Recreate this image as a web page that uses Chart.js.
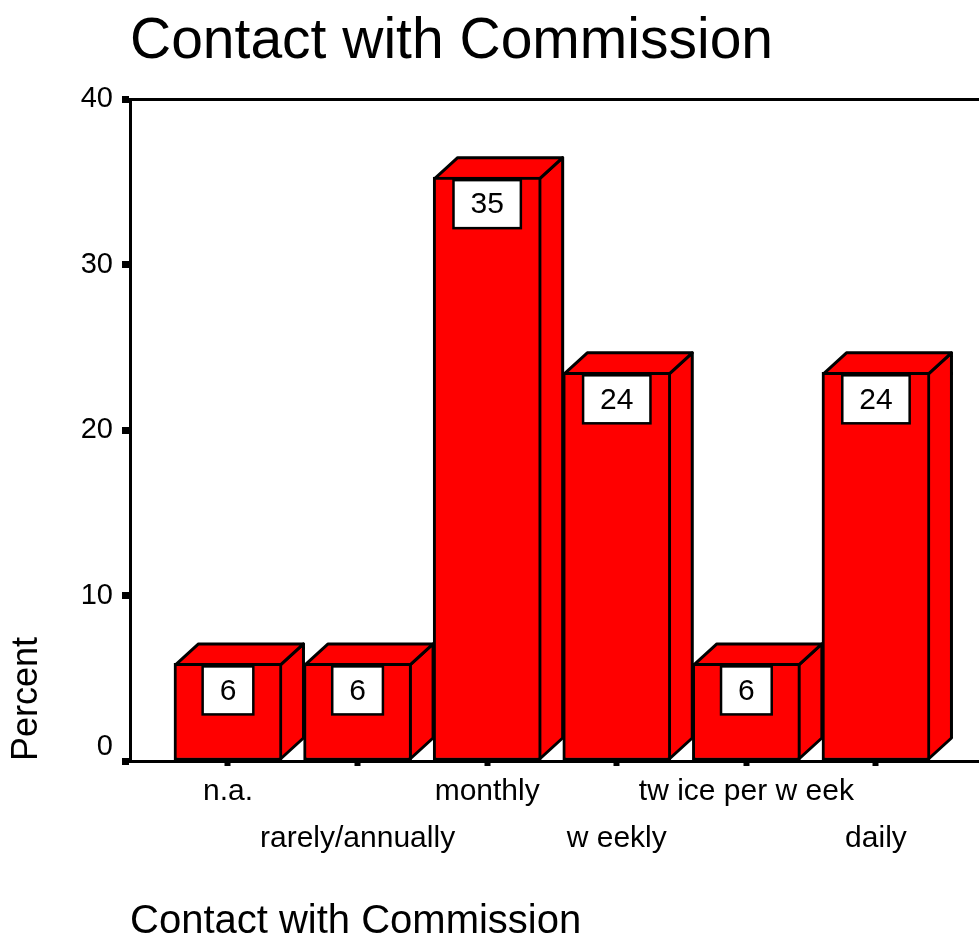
<!DOCTYPE html>
<html>
<head>
<meta charset="utf-8">
<title>Contact with Commission</title>
<script src="https://cdn.jsdelivr.net/npm/chart.js@4.4.1/dist/chart.umd.min.js"></script>
<style>
  html, body { margin: 0; padding: 0; background: #fff; }
  canvas { display: block; }
</style>
</head>
<body>
<canvas id="grafico" width="979" height="940"></canvas>
<script>
// data (percent of respondents)
const categories = ['n.a.', 'rarely/annually', 'monthly', 'w eekly', 'tw ice per w eek', 'daily'];
const percents = [5.9, 5.9, 35.3, 23.5, 5.9, 23.5];
const valueLabels = ['6', '6', '35', '24', '6', '24'];
const yTicks = [0, 10, 20, 30, 40];

const FONT = "'Liberation Sans', Arial, Helvetica, sans-serif";
const RED = '#ff0000';
const DEPTH_X = 23;
const DEPTH_Y = 21;

Chart.defaults.font.family = FONT;
Chart.defaults.color = '#000';

// side and top faces, drawn before the front faces so the next bar covers them
const bar3d = {
  id: 'bar3d',
  beforeDatasetsDraw(chart) {
    const ctx = chart.ctx;
    const meta = chart.getDatasetMeta(0);
    ctx.save();
    ctx.fillStyle = RED;
    ctx.strokeStyle = '#000';
    ctx.lineWidth = 3;
    ctx.lineJoin = 'round';
    meta.data.forEach(bar => {
      const p = bar.getProps(['x', 'y', 'base', 'width'], true);
      const l = p.x - p.width / 2 + 1.5;
      const r = p.x + p.width / 2 - 1.5;
      const top = p.y + 1.5;
      const base = p.base - 1.5;

      ctx.beginPath();
      ctx.moveTo(r, top);
      ctx.lineTo(r + DEPTH_X, top - DEPTH_Y);
      ctx.lineTo(r + DEPTH_X, base - DEPTH_Y);
      ctx.lineTo(r, base);
      ctx.closePath();
      ctx.fill();
      ctx.stroke();

      ctx.beginPath();
      ctx.moveTo(l, top);
      ctx.lineTo(l + DEPTH_X, top - DEPTH_Y);
      ctx.lineTo(r + DEPTH_X, top - DEPTH_Y);
      ctx.lineTo(r, top);
      ctx.closePath();
      ctx.fill();
      ctx.stroke();
    });
    ctx.restore();
  },
  afterDatasetsDraw(chart) {
    const ctx = chart.ctx;
    const meta = chart.getDatasetMeta(0);
    ctx.save();
    ctx.font = '30px ' + FONT;
    ctx.textAlign = 'center';
    ctx.textBaseline = 'middle';
    meta.data.forEach((bar, i) => {
      const p = bar.getProps(['x', 'y'], true);
      const txt = valueLabels[i];
      const w = ctx.measureText(txt).width + 34;
      const h = 48;
      const bx = p.x - w / 2;
      const by = p.y + 3;
      ctx.fillStyle = '#fff';
      ctx.fillRect(bx, by, w, h);
      ctx.strokeStyle = '#000';
      ctx.lineWidth = 2.5;
      ctx.strokeRect(bx, by, w, h);
      ctx.fillStyle = '#000';
      ctx.fillText(txt, p.x, by + h / 2 + 1);
    });
    ctx.restore();
  }
};

new Chart(document.getElementById('grafico'), {
  type: 'bar',
  data: {
    datasets: [{
      label: 'Percent',
      data: percents.map((v, i) => ({ x: i, y: v })),
      backgroundColor: RED,
      borderColor: '#000',
      borderWidth: 3,
      borderSkipped: false,
      barThickness: 108
    }]
  },
  options: {
    responsive: false,
    animation: false,
    layout: { padding: 0 },
    plugins: {
      legend: { display: false },
      tooltip: { enabled: false },
      title: {
        display: true,
        text: 'Contact with Commission',
        align: 'start',
        fullSize: false,
        font: { size: 57, weight: 'normal', lineHeight: 1.2 },
        padding: { top: 8, bottom: 0 }
      }
    },
    scales: {
      x: {
        type: 'linear',
        position: 'bottom',
        offset: false,
        min: -0.756,
        max: 5.795,
        afterFit: s => { s.height = 179; },
        border: { display: true, color: '#000', width: 3 },
        grid: { display: true, offset: false, drawOnChartArea: false, drawTicks: true, tickLength: 5, tickWidth: 6, tickColor: '#000' },
        ticks: {
          stepSize: 1,
          includeBounds: false,
          autoSkip: false,
          maxRotation: 0,
          padding: 2,
          font: { size: 30, lineHeight: 1.567 },
          callback: v => {
            if (!Number.isInteger(v) || !categories[v]) return '';
            return v % 2 === 0 ? [categories[v]] : ['', categories[v]];
          }
        },
        title: {
          display: true,
          text: 'Contact with Commission',
          align: 'start',
          font: { size: 40, lineHeight: 0.9 },
          padding: { top: 0, bottom: 0 }
        }
      },
      xTop: {
        type: 'linear',
        position: 'top',
        afterFit: s => { s.height = 23; },
        border: { display: true, color: '#000', width: 3 },
        grid: { display: false },
        ticks: { display: false }
      },
      y: {
        min: 0,
        max: 40,
        afterFit: s => { s.width = 130; },
        border: { display: true, color: '#000', width: 3 },
        grid: { display: true, drawOnChartArea: false, drawTicks: true, tickLength: 8, tickWidth: 7, tickColor: '#000' },
        afterBuildTicks: s => { s.ticks = yTicks.map(v => ({ value: v })); },
        ticks: {
          padding: 9,
          font: { size: 29, lineHeight: 1.0 },
          callback: v => (v === 0 ? ['0', ''] : String(v))
        },
        title: {
          display: true,
          text: 'Percent',
          align: 'start',
          font: { size: 36, lineHeight: 1.2 },
          padding: { top: 5, bottom: 0 }
        }
      }
    }
  },
  plugins: [bar3d]
});
</script>
</body>
</html>
